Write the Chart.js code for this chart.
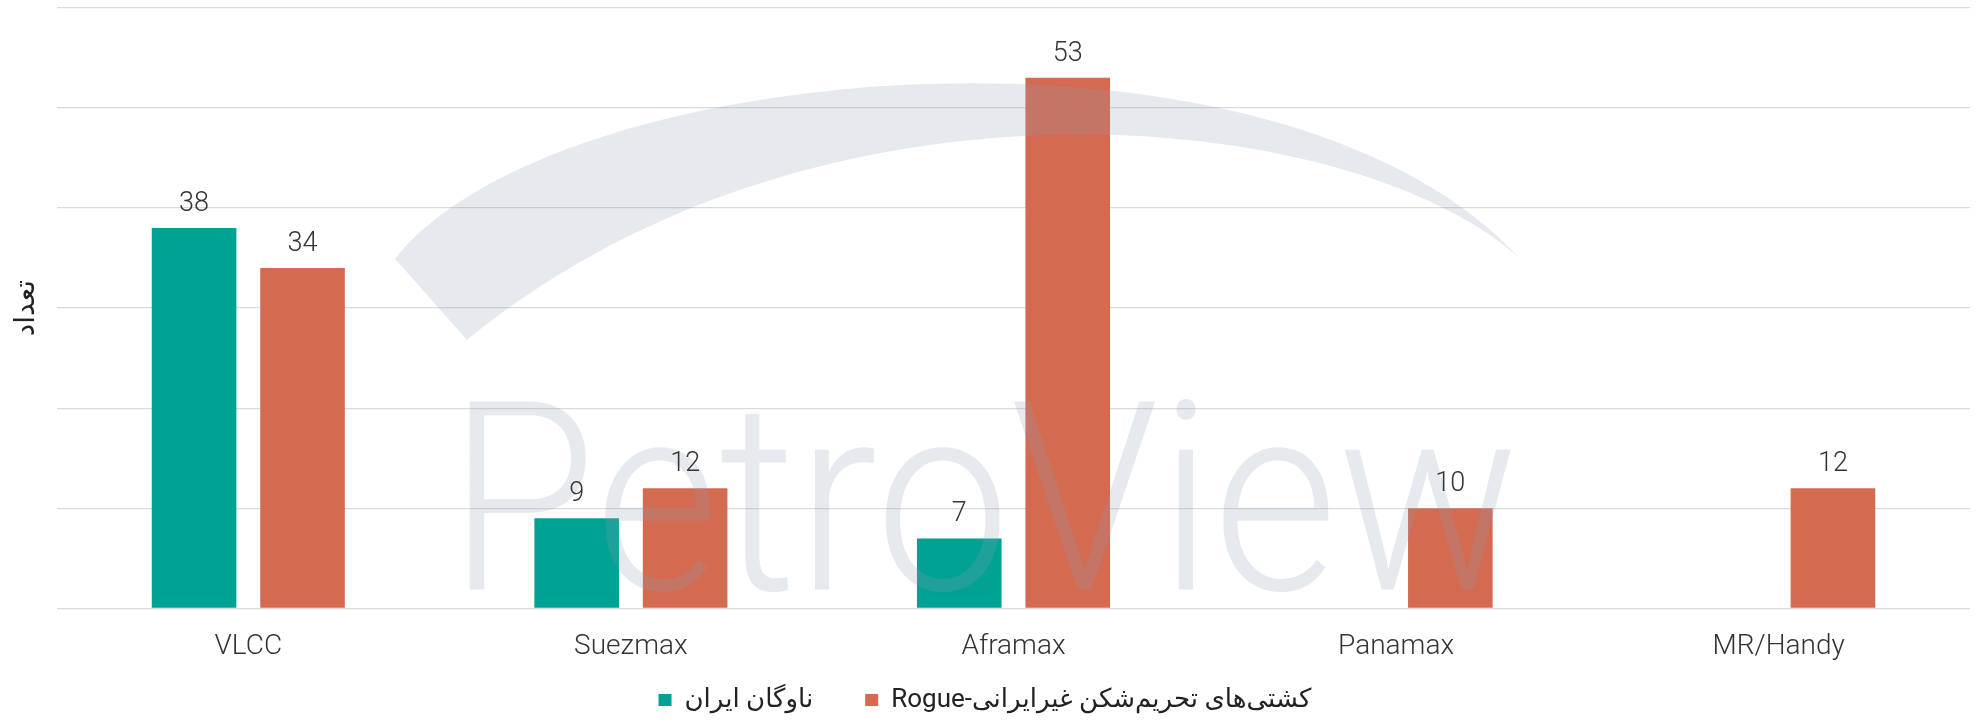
<!DOCTYPE html>
<html>
<head>
<meta charset="utf-8">
<script src="https://cdn.jsdelivr.net/npm/chart.js@4.4.1/dist/chart.umd.min.js"></script>
<style>
  html, body { margin: 0; padding: 0; background: #ffffff; }
  #wrap { width: 1978px; height: 723px; position: relative; }
</style>
</head>
<body>
<div id="wrap"><canvas id="c"></canvas></div>
<script>
// ---- data ----
const categories = ['VLCC', 'Suezmax', 'Aframax', 'Panamax', 'MR/Handy'];
const iranFleet = [38, 9, 7, null, null];
const rogueFleet = [34, 12, 53, 10, 12];
const seriesNames = ['ناوگان ایران', 'کشتی\u200cهای تحریم\u200cشکن غیرایرانی-Rogue'];
const yAxisTitle = 'تعداد';
const yMin = 0, yMax = 60, yStep = 10;
const watermarkText = 'PetroView';

const TEAL = '#00a294';
const ORANGE = '#d46a50';

// watermark (decorative background logo), drawn relative to chart area
const watermark = {
  id: 'watermark',
  afterDatasetsDraw(chart) {
    const {ctx, chartArea: ca} = chart;
    const X = f => ca.left + f * (ca.right - ca.left);
    const Y = f => ca.top + f * (ca.bottom - ca.top);
    ctx.save();
    ctx.fillStyle = 'rgba(140,160,176,0.22)';
    // swoosh arc
    ctx.beginPath();
    ctx.moveTo(X(0.1767), Y(0.418));
    ctx.bezierCurveTo(X(0.26), Y(0.08), X(0.64), Y(-0.02), X(0.7648), Y(0.418));
    ctx.bezierCurveTo(X(0.68), Y(0.17), X(0.40), Y(0.07), X(0.2143), Y(0.553));
    ctx.closePath();
    ctx.fill();
    // text
    const fs = 0.44 * (ca.bottom - ca.top);
    ctx.font = '300 ' + fs + 'px Roboto';
    ctx.textBaseline = 'alphabetic';
    ctx.textAlign = 'left';
    const w = ctx.measureText(watermarkText).width;
    const targetW = 0.5598 * (ca.right - ca.left);
    const x0 = X(0.2044);
    const y0 = ca.bottom - 0.0316 * (ca.bottom - ca.top);
    ctx.translate(x0, y0);
    ctx.scale(targetW / w, 1);
    ctx.fillText(watermarkText, 0, 0);
    ctx.restore();
  }
};

const valueLabels = {
  id: 'valueLabels',
  afterDatasetsDraw(chart) {
    const {ctx} = chart;
    ctx.save();
    ctx.font = '300 27px Roboto';
    ctx.fillStyle = '#333333';
    ctx.textAlign = 'center';
    ctx.textBaseline = 'alphabetic';
    chart.data.datasets.forEach((ds, i) => {
      const meta = chart.getDatasetMeta(i);
      meta.data.forEach((bar, j) => {
        const v = ds.data[j];
        if (v === null || v === undefined) return;
        ctx.fillText(String(v), bar.x, bar.y - 17);
      });
    });
    ctx.restore();
  }
};

new Chart(document.getElementById('c'), {
  type: 'bar',
  data: {
    labels: categories,
    datasets: [
      { label: seriesNames[0], data: iranFleet, backgroundColor: TEAL, borderWidth: 0,
        categoryPercentage: 0.567, barPercentage: 0.78 },
      { label: seriesNames[1], data: rogueFleet, backgroundColor: ORANGE, borderWidth: 0,
        categoryPercentage: 0.567, barPercentage: 0.78 }
    ]
  },
  options: {
    responsive: true,
    maintainAspectRatio: false,
    animation: false,
    layout: { padding: { left: 0, right: 8, top: 7.6, bottom: 0 } },
    plugins: {
      legend: {
        position: 'bottom',
        textDirection: 'rtl',
        labels: {
          color: '#222222',
          font: { family: 'Roboto, "DejaVu Sans", sans-serif', size: 26 },
          boxWidth: 13,
          boxHeight: 12,
          padding: 52
        }
      },
      tooltip: { enabled: false }
    },
    scales: {
      x: {
        grid: { display: false },
        border: { display: false },
        ticks: {
          color: '#333333',
          padding: 14,
          font: { family: 'Roboto', size: 28, weight: 300, lineHeight: 1.2 }
        },
        afterFit: (scale) => {
          scale.height = 26.5;
          // let the tick labels extend below the (shortened) axis box
          scale._computeLabelArea = () => undefined;
        }
      },
      y: {
        min: yMin, max: yMax,
        ticks: { display: false, stepSize: yStep },
        grid: { color: '#dadada', lineWidth: 1.3, drawTicks: false },
        border: { display: false },
        title: {
          display: true,
          text: yAxisTitle,
          color: '#222222',
          font: { family: 'Roboto, "DejaVu Sans", sans-serif', size: 28, lineHeight: 1.2 },
          padding: { top: 10, bottom: 13.4 }
        }
      }
    }
  },
  plugins: [watermark, valueLabels]
});
</script>
</body>
</html>
